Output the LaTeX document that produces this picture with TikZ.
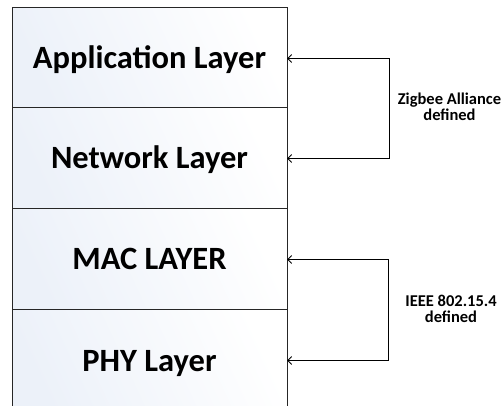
\documentclass[tikz,border=0pt]{standalone}
\usepackage{fontspec}
\setmainfont{Carlito}
\usetikzlibrary{arrows.meta}
\definecolor{layertint}{RGB}{236,241,249}
\tikzset{
  layer/.style={draw=black!85, line width=1pt, minimum width=275pt, minimum height=101pt,
    inner sep=0pt, outer sep=0pt, left color=layertint, right color=white, shading angle=115,
    font=\fontsize{32.5}{36}\selectfont\bfseries, text height=21pt, text depth=0pt},
  bracket/.style={draw=black, line width=0.9pt, {Straight Barb[length=4pt,width=8pt]}-{Straight Barb[length=4pt,width=8pt]}},
  note/.style={align=center, font=\fontsize{16.5}{16}\selectfont\bfseries}
}
\begin{document}
\begin{tikzpicture}[x=1pt, y=-1pt]
  \useasboundingbox (0,0) rectangle (501,406);
  % protocol stack
  \node[layer] (app) at (149.5,58.5) {Application Layer};
  \node[layer] (net) at (149.5,158.5) {Network Layer};
  \node[layer] (mac) at (149.5,259.5) {MAC LAYER};
  \node[layer] (phy) at (149.5,360.5) {PHY Layer};
  % standards brackets
  \draw[bracket] (app.east) -- ++(102,0) |- (net.east);
  \draw[bracket] (mac.east) -- ++(101,0) |- (phy.east);
  \node[note] (zig) at (449.5,107) {Zigbee Alliance\\defined};
  \node[note] (ieee) at (451,309) {IEEE 802.15.4\\defined};
\end{tikzpicture}
\end{document}
